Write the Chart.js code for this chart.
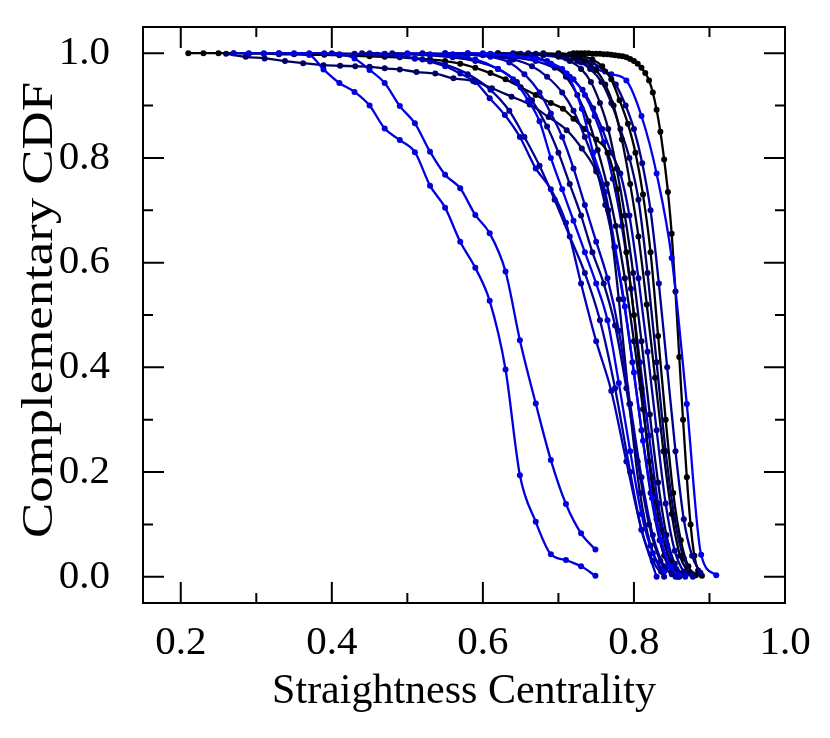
<!DOCTYPE html>
<html>
<head>
<meta charset="utf-8">
<script src="https://cdn.jsdelivr.net/npm/chart.js@4.4.1/dist/chart.umd.min.js"></script>
<style>
  html, body { margin: 0; padding: 0; background: #fff; }
  canvas { display: block; }
</style>
</head>
<body>
<canvas id="cdf" width="830" height="738"></canvas>
<script>
// tick labels
const xTicks = [0.2, 0.4, 0.6, 0.8, 1.0];
const yTicks = [0.0, 0.2, 0.4, 0.6, 0.8, 1.0];
const xMinor = [0.3, 0.5, 0.7, 0.9];
const yMinor = [0.1, 0.3, 0.5, 0.7, 0.9];
const xTitle = 'Straightness Centrality';
const yTitle = 'Complementary CDF';

// one curve per city: [straightness, complementary CDF]
const curveB1 = [[0.27,1.0],[0.29,1.0],[0.31,1.0],[0.33,1.0],[0.35,0.999],[0.37,0.997],[0.389,0.969],[0.41,0.943],[0.43,0.926],[0.45,0.9],[0.47,0.856],[0.49,0.834],[0.51,0.811],[0.53,0.747],[0.55,0.705],[0.57,0.64],[0.59,0.59],[0.609,0.527],[0.63,0.396],[0.649,0.194],[0.67,0.105],[0.69,0.043],[0.71,0.032],[0.73,0.02],[0.749,0.002]];
const curveB2 = [[0.33,1.0],[0.35,1.0],[0.37,1.0],[0.39,1.0],[0.41,0.998],[0.43,0.99],[0.45,0.968],[0.47,0.943],[0.49,0.899],[0.51,0.866],[0.53,0.812],[0.55,0.768],[0.57,0.742],[0.59,0.691],[0.609,0.656],[0.63,0.583],[0.649,0.452],[0.67,0.331],[0.69,0.223],[0.71,0.139],[0.73,0.083],[0.749,0.052]];
const curveC1 = [[0.45,1.0],[0.47,0.998],[0.49,0.995],[0.51,0.99],[0.53,0.984],[0.55,0.975],[0.57,0.961],[0.59,0.945],[0.609,0.914],[0.629,0.882],[0.649,0.84],[0.67,0.78],[0.69,0.74],[0.71,0.676],[0.73,0.56],[0.75,0.45],[0.77,0.355],[0.79,0.22],[0.81,0.09],[0.83,0.0]];
const curveC2 = [[0.40,1.0],[0.43,0.999],[0.46,0.997],[0.49,0.994],[0.52,0.988],[0.55,0.978],[0.58,0.96],[0.61,0.93],[0.635,0.89],[0.655,0.84],[0.675,0.785],[0.695,0.72],[0.715,0.65],[0.735,0.58],[0.755,0.49],[0.775,0.36],[0.795,0.2],[0.81,0.09],[0.825,0.03],[0.84,0.0]];
const curveC3 = [[0.50,1.0],[0.53,0.998],[0.56,0.995],[0.59,0.988],[0.62,0.97],[0.64,0.95],[0.66,0.91],[0.675,0.87],[0.69,0.8],[0.705,0.74],[0.72,0.68],[0.735,0.62],[0.75,0.56],[0.765,0.49],[0.78,0.37],[0.795,0.24],[0.81,0.12],[0.825,0.045],[0.84,0.01]];
const curveC4 = [[0.44,1.0],[0.47,0.999],[0.50,0.998],[0.53,0.996],[0.56,0.992],[0.59,0.985],[0.62,0.97],[0.645,0.945],[0.665,0.91],[0.685,0.86],[0.70,0.81],[0.715,0.75],[0.73,0.69],[0.745,0.62],[0.76,0.56],[0.775,0.48],[0.79,0.36],[0.805,0.22],[0.82,0.1],[0.835,0.03],[0.85,0.005]];
const curveC5 = [[0.55,1.0],[0.58,0.998],[0.61,0.993],[0.635,0.982],[0.655,0.96],[0.675,0.925],[0.69,0.885],[0.705,0.84],[0.72,0.78],[0.735,0.71],[0.75,0.64],[0.765,0.57],[0.78,0.47],[0.795,0.33],[0.81,0.19],[0.825,0.08],[0.84,0.02],[0.855,0.0]];
const curveC6 = [[0.26,0.999],[0.286,0.993],[0.311,0.99],[0.338,0.985],[0.362,0.981],[0.389,0.977],[0.411,0.976],[0.431,0.975],[0.45,0.974],[0.47,0.971],[0.49,0.969],[0.512,0.964],[0.537,0.961],[0.561,0.952],[0.587,0.947],[0.612,0.933],[0.638,0.917],[0.662,0.902],[0.687,0.878],[0.711,0.853],[0.731,0.818],[0.75,0.774],[0.766,0.7],[0.78,0.53],[0.794,0.33],[0.808,0.16],[0.822,0.06],[0.836,0.01]];
const curveC7 = [[0.55,1.0],[0.58,1.0],[0.61,0.998],[0.64,0.995],[0.67,0.99],[0.69,0.98],[0.711,0.961],[0.731,0.894],[0.746,0.81],[0.762,0.735],[0.775,0.63],[0.788,0.516],[0.80,0.39],[0.812,0.26],[0.824,0.15],[0.836,0.07],[0.848,0.02],[0.86,0.003]];
const curveC8 = [[0.52,1.0],[0.55,0.999],[0.58,0.997],[0.61,0.994],[0.64,0.988],[0.665,0.975],[0.685,0.955],[0.705,0.925],[0.72,0.89],[0.735,0.84],[0.75,0.78],[0.762,0.71],[0.774,0.63],[0.786,0.53],[0.798,0.41],[0.81,0.28],[0.822,0.16],[0.834,0.07],[0.846,0.02],[0.858,0.0]];
const curveC9 = [[0.62,1.0],[0.645,0.998],[0.67,0.992],[0.69,0.98],[0.71,0.955],[0.725,0.92],[0.74,0.87],[0.752,0.815],[0.764,0.75],[0.776,0.67],[0.788,0.57],[0.80,0.45],[0.812,0.32],[0.824,0.19],[0.836,0.09],[0.848,0.03],[0.86,0.005]];
const curveK2 = [[0.21,1.0],[0.23,1.0],[0.25,1.0],[0.27,1.0],[0.29,0.999],[0.31,0.999],[0.33,0.998],[0.35,0.998],[0.37,0.997],[0.39,0.997],[0.41,0.996],[0.43,0.995],[0.45,0.994],[0.47,0.993],[0.49,0.992],[0.51,0.99],[0.53,0.988],[0.55,0.985],[0.57,0.98],[0.59,0.972],[0.61,0.962],[0.63,0.95],[0.65,0.935],[0.67,0.92],[0.69,0.905],[0.706,0.894],[0.72,0.875],[0.735,0.855],[0.75,0.835],[0.765,0.81],[0.778,0.74],[0.79,0.62],[0.80,0.5],[0.81,0.36],[0.82,0.22],[0.83,0.11],[0.84,0.04],[0.85,0.01],[0.86,0.0]];
const curveC11 = [[0.58,1.0],[0.61,0.999],[0.64,0.997],[0.665,0.993],[0.685,0.985],[0.705,0.97],[0.72,0.95],[0.735,0.92],[0.748,0.88],[0.76,0.83],[0.772,0.76],[0.784,0.67],[0.796,0.55],[0.808,0.41],[0.82,0.27],[0.832,0.14],[0.844,0.06],[0.856,0.015],[0.868,0.0]];
const curveC12 = [[0.66,1.0],[0.68,0.998],[0.70,0.993],[0.715,0.985],[0.73,0.97],[0.743,0.945],[0.755,0.905],[0.766,0.855],[0.777,0.78],[0.788,0.69],[0.799,0.58],[0.81,0.45],[0.821,0.31],[0.832,0.18],[0.843,0.08],[0.854,0.025],[0.865,0.004]];
const curveC13 = [[0.48,1.0],[0.52,0.999],[0.56,0.998],[0.60,0.996],[0.64,0.992],[0.67,0.985],[0.695,0.972],[0.715,0.955],[0.732,0.93],[0.746,0.895],[0.758,0.855],[0.77,0.81],[0.782,0.77],[0.794,0.69],[0.806,0.57],[0.818,0.43],[0.83,0.28],[0.842,0.14],[0.854,0.05],[0.866,0.01],[0.878,0.0]];
const curveC14 = [[0.68,1.0],[0.70,0.998],[0.72,0.993],[0.735,0.985],[0.75,0.968],[0.762,0.94],[0.773,0.9],[0.784,0.835],[0.795,0.75],[0.806,0.65],[0.817,0.52],[0.828,0.38],[0.839,0.24],[0.85,0.12],[0.861,0.04],[0.872,0.008]];
const curveC15 = [[0.62,1.0],[0.65,0.999],[0.68,0.997],[0.705,0.993],[0.725,0.985],[0.742,0.97],[0.757,0.945],[0.77,0.905],[0.782,0.855],[0.794,0.8],[0.806,0.72],[0.818,0.58],[0.83,0.41],[0.842,0.24],[0.854,0.11],[0.866,0.035],[0.878,0.005]];
const curveC16 = [[0.70,1.0],[0.715,0.998],[0.73,0.995],[0.745,0.988],[0.758,0.975],[0.77,0.95],[0.781,0.91],[0.792,0.865],[0.802,0.81],[0.812,0.73],[0.822,0.62],[0.832,0.46],[0.842,0.3],[0.852,0.16],[0.862,0.07],[0.872,0.02],[0.882,0.003]];
const curveC17 = [[0.64,1.0],[0.67,0.999],[0.70,0.997],[0.725,0.992],[0.745,0.982],[0.762,0.965],[0.776,0.94],[0.789,0.9],[0.80,0.855],[0.811,0.79],[0.822,0.7],[0.833,0.56],[0.844,0.4],[0.855,0.24],[0.866,0.11],[0.877,0.04],[0.888,0.008]];
const curveB3 = [[0.60,1.0],[0.64,0.999],[0.68,0.996],[0.71,0.99],[0.73,0.982],[0.75,0.97],[0.77,0.96],[0.79,0.948],[0.81,0.88],[0.83,0.77],[0.85,0.609],[0.87,0.33],[0.889,0.042],[0.909,0.003]];
const curveK1 = [[0.72,1.0],[0.725,1.0],[0.73,1.0],[0.735,1.0],[0.74,1.0],[0.745,0.999],[0.75,0.999],[0.755,0.999],[0.76,0.998],[0.765,0.998],[0.77,0.997],[0.775,0.996],[0.78,0.995],[0.785,0.994],[0.79,0.992],[0.795,0.989],[0.80,0.985],[0.805,0.98],[0.81,0.972],[0.815,0.962],[0.82,0.948],[0.825,0.925],[0.83,0.892],[0.835,0.85],[0.84,0.797],[0.845,0.735],[0.85,0.655],[0.855,0.545],[0.86,0.42],[0.865,0.3],[0.87,0.19],[0.875,0.1],[0.88,0.04],[0.885,0.012],[0.89,0.002]];

const curves = [curveB1, curveB2, curveC1, curveC2, curveC3, curveC4, curveC5, curveC6, curveC7, curveC8, curveC9, curveK2,
                curveC11, curveC12, curveC13, curveC14, curveC15, curveC16, curveC17, curveB3, curveK1];
const colors = ['#0000dd', '#0000dd', '#0000b8', '#00009a', '#0000e6', '#000080', '#0000b4', '#000060', '#0000ff', '#000088', '#00003c', '#000000',
                '#0000d2', '#000050', '#0000a0', '#000020', '#00006c', '#000008', '#000090', '#0000f0', '#000000'];

const serif = '"Liberation Serif", "Times New Roman", serif';

// inward ticks on all four sides, the frame and the (tall) y title
const frameTicks = {
    id: 'frameTicks',
    afterDraw(chart) {
        const ctx = chart.ctx;
        const a = chart.chartArea;
        const xs = chart.scales.x, ys = chart.scales.y;
        ctx.save();
        ctx.strokeStyle = '#000';
        ctx.lineWidth = 2;
        ctx.beginPath();
        function xTick(v, len) {
            const p = xs.getPixelForValue(v);
            ctx.moveTo(p, a.bottom); ctx.lineTo(p, a.bottom - len);
            ctx.moveTo(p, a.top); ctx.lineTo(p, a.top + len);
        }
        function yTick(v, len) {
            const p = ys.getPixelForValue(v);
            ctx.moveTo(a.left, p); ctx.lineTo(a.left + len, p);
            ctx.moveTo(a.right, p); ctx.lineTo(a.right - len, p);
        }
        xTicks.forEach(v => xTick(v, 21));
        xMinor.forEach(v => xTick(v, 10));
        yTicks.forEach(v => yTick(v, 21));
        yMinor.forEach(v => yTick(v, 10));
        ctx.stroke();
        ctx.strokeRect(a.left, a.top, a.right - a.left, a.bottom - a.top);

        ctx.translate(40, (a.top + a.bottom) / 2 - 5);
        ctx.rotate(-Math.PI / 2);
        ctx.scale(1.2, 1);
        ctx.fillStyle = '#000';
        ctx.font = '44px ' + serif;
        ctx.textAlign = 'center';
        ctx.textBaseline = 'middle';
        ctx.fillText(yTitle, 0, 0);
        ctx.restore();
    }
};

const datasets = curves.map(function (c, i) {
    return {
        data: c,
        borderColor: colors[i],
        backgroundColor: colors[i],
        borderWidth: 2.3,
        pointRadius: 3,
        pointBorderWidth: 0,
        cubicInterpolationMode: 'monotone',
        fill: false
    };
});

new Chart(document.getElementById('cdf'), {
    type: 'line',
    data: { datasets: datasets },
    options: {
        responsive: false,
        animation: false,
        devicePixelRatio: 1,
        layout: { padding: { top: 27, right: 45, left: 0, bottom: 0 } },
        plugins: { legend: { display: false }, tooltip: { enabled: false } },
        scales: {
            x: {
                type: 'linear',
                min: 0.15,
                max: 1.0,
                grid: { display: false },
                border: { display: false },
                afterBuildTicks: s => { s.ticks = xTicks.map(v => ({ value: v })); },
                afterFit: s => { s.height = 135; s.paddingLeft = 0; s.paddingRight = 0; },
                ticks: {
                    color: '#000',
                    padding: 8,
                    maxRotation: 0,
                    font: { family: serif, size: 41 },
                    callback: v => v.toFixed(1)
                },
                title: {
                    display: true,
                    text: xTitle,
                    color: '#000',
                    font: { family: serif, size: 42 },
                    padding: { top: 0, bottom: 21 }
                }
            },
            y: {
                min: -0.05,
                max: 1.05,
                grid: { display: false },
                border: { display: false },
                afterBuildTicks: s => { s.ticks = yTicks.map(v => ({ value: v })); },
                afterFit: s => { s.width = 143; s.paddingTop = 0; s.paddingBottom = 0; },
                ticks: {
                    color: '#000',
                    padding: 25,
                    font: { family: serif, size: 41 },
                    callback: v => v.toFixed(1)
                }
            }
        }
    },
    plugins: [frameTicks]
});
</script>
</body>
</html>
